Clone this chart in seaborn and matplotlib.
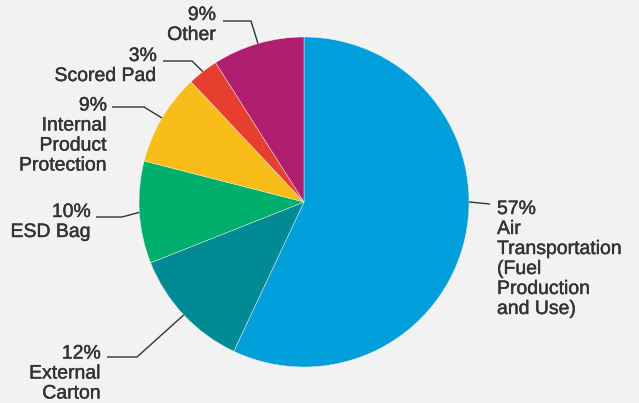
import numpy as np
import matplotlib
matplotlib.use("Agg")
import matplotlib.pyplot as plt
import matplotlib.patheffects as pe
import seaborn as sns

# ---- data ----
categories = ["Air\nTransportation\n(Fuel\nProduction\nand Use)", "External\nCarton", "ESD Bag",
              "Internal\nProduct\nProtection", "Scored Pad", "Other"]
shares = [57, 12, 10, 9, 3, 9]
colors = ["#009FDB", "#008B94", "#00AE6B", "#F8BD19", "#E63E2F", "#B01F6F"]

sns.set_theme(style="white")
plt.rcParams['font.family'] = ['Liberation Sans', 'DejaVu Sans']

W, H = 639, 403
fig = plt.figure(figsize=(W / 100, H / 100), dpi=100, facecolor="#F2F2F2")
ax = fig.add_axes([0, 0, 1, 1])
ax.set_facecolor("#F2F2F2")

cx, cy, R = 304, H - 202, 165
wedges, _ = ax.pie(shares, colors=colors, startangle=90, counterclock=False,
                   center=(cx, cy), radius=R, frame=True,
                   wedgeprops=dict(linewidth=0.3, edgecolor="#F2F2F2"))
ax.set_xlim(0, W)
ax.set_ylim(0, H)
ax.set_aspect("equal")
ax.axis("off")

# label layout (pixel coords, y from top): elbow, line end, text anchor, alignment
layout = [
    dict(angle=0.0, elbow=None, end=(490, 204), text=(497, 259.5), ha="left"),
    dict(angle=None, elbow=(137, 357), end=(107, 357), text=(101, 374), ha="right"),
    dict(angle=None, elbow=(122, 217), end=(96, 217), text=(91, 222.5), ha="right"),
    dict(angle=None, elbow=(144, 107), end=(112, 107), text=(107, 136), ha="right"),
    dict(angle=None, elbow=(192, 61), end=(163, 61), text=(157, 66.5), ha="right"),
    dict(angle=None, elbow=(251, 21), end=(223, 21), text=(216, 25.5), ha="right"),
]

lc = "#333333"
for w, cat, s, lay in zip(wedges, categories, shares, layout):
    ang = lay["angle"] if lay["angle"] is not None else (w.theta1 + w.theta2) / 2
    sx = cx + R * np.cos(np.radians(ang))
    sy = cy + R * np.sin(np.radians(ang))
    pts = [(sx, sy)]
    if lay["elbow"] is not None:
        pts.append((lay["elbow"][0], H - lay["elbow"][1]))
    pts.append((lay["end"][0], H - lay["end"][1]))
    xs, ys = zip(*pts)
    ax.plot(xs, ys, color=lc, lw=1.0, solid_capstyle="butt")
    ax.text(lay["text"][0], H - lay["text"][1], f"{s}%\n{cat}", ha=lay["ha"], va="center",
            fontsize=14.0, color=lc, linespacing=1.23, multialignment=lay["ha"],
            path_effects=[pe.withStroke(linewidth=0.3, foreground=lc)])

fig.savefig("out.png", dpi=100, facecolor=fig.get_facecolor())
